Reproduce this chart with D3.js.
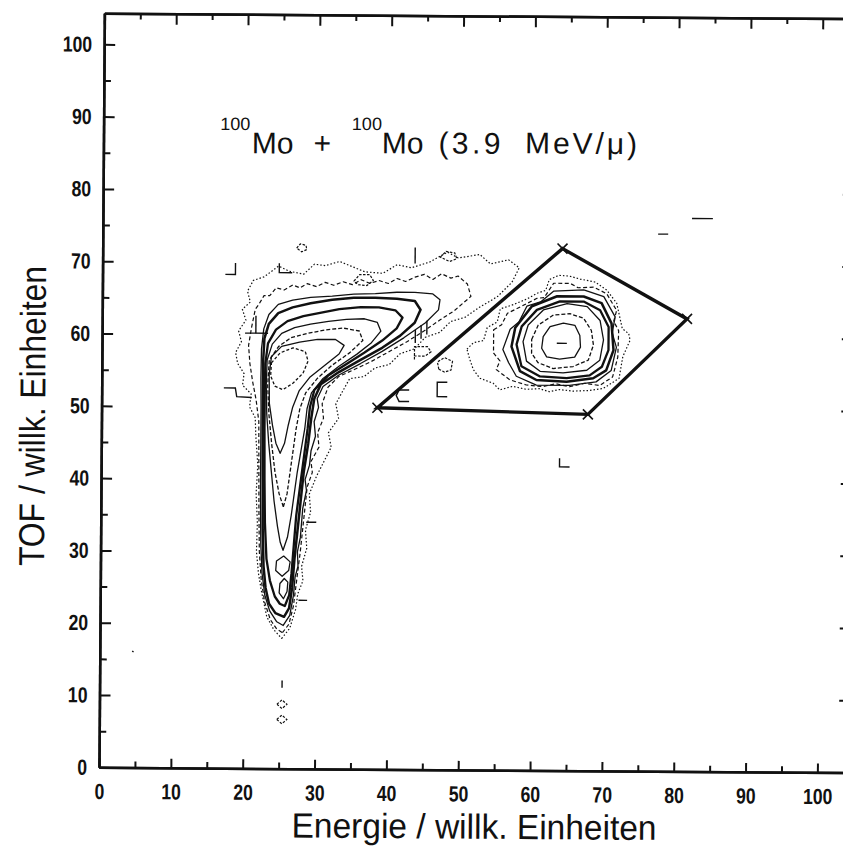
<!DOCTYPE html>
<html>
<head>
<meta charset="utf-8">
<script src="https://cdn.jsdelivr.net/npm/d3@7"></script>
<style>
  body { margin: 0; background: #fff; }
  svg { display: block; }
</style>
</head>
<body>
<svg id="chart" width="843" height="846"></svg>
<script>
// tick values of the frame
const majorTicks = [0, 10, 20, 30, 40, 50, 60, 70, 80, 90, 100];
const minorTicks = [5, 15, 25, 35, 45, 55, 65, 75, 85, 95];

// contour rings of the fission ridge (L shaped), level 1 = outermost
const ridgeContours = [
  { level: 1, pts: [[25.3,18.0],[26.4,19.4],[27.2,22.0],[27.5,24.2],[28.2,26.0],[28.0,28.0],[28.7,30.5],[28.5,33.0],[29.2,35.5],[29.0,38.0],[30.0,40.5],[31.0,42.5],[32.0,44.5],[31.6,46.5],[33.0,48.5],[32.6,50.5],[33.4,52.0],[34.5,54.0],[36.5,54.3],[38.0,55.5],[40.0,56.0],[41.5,57.5],[43.5,58.2],[45.0,59.8],[47.0,60.5],[48.5,62.0],[50.5,62.6],[52.5,64.0],[55.0,65.5],[57.0,67.5],[58.0,69.5],[56.5,70.6],[54.0,70.0],[52.5,71.3],[49.5,70.8],[48.0,71.6],[45.5,70.2],[43.0,69.4],[41.0,69.8],[39.0,68.6],[36.5,68.8],[34.5,69.6],[33.0,70.2],[31.0,69.6],[29.5,69.8],[28.0,68.4],[26.0,68.8],[24.5,69.5],[22.5,68.0],[21.0,67.5],[20.2,66.0],[20.6,64.5],[19.5,63.5],[20.0,62.0],[19.0,60.5],[19.4,59.0],[18.6,57.5],[18.9,56.0],[19.8,54.6],[19.6,53.0],[20.8,51.8],[20.6,50.0],[21.4,48.5],[21.5,46.0],[21.8,42.0],[21.6,38.0],[21.8,34.0],[21.7,30.0],[22.0,27.0],[22.4,24.7],[23.2,21.0],[24.2,19.2]] },
  { level: 2, pts: [[25.4,18.8],[26.3,20.0],[26.9,22.5],[27.2,25.0],[27.5,27.5],[27.8,30.0],[28.1,33.0],[28.4,36.0],[28.7,39.0],[29.4,41.0],[29.2,42.5],[30.3,44.5],[30.1,46.5],[30.9,48.5],[30.7,50.5],[31.5,52.8],[33.0,54.3],[35.0,55.2],[37.5,56.4],[40.0,57.8],[42.5,59.2],[45.0,60.8],[47.0,62.2],[49.0,63.5],[51.3,65.5],[50.8,67.2],[49.5,68.3],[48.5,68.0],[47.2,68.6],[46.0,67.8],[44.8,68.5],[43.5,68.1],[42.2,67.5],[41.0,67.9],[39.8,67.2],[38.5,67.6],[37.2,67.2],[36.0,67.7],[34.8,67.0],[33.5,67.4],[32.2,66.9],[31.0,67.3],[29.8,66.7],[28.5,67.1],[27.5,66.5],[26.5,66.9],[25.3,66.2],[24.2,66.5],[23.3,65.4],[22.5,65.4],[21.8,64.2],[21.3,63.5],[20.8,61.0],[20.4,58.5],[20.6,56.0],[21.0,53.5],[21.5,51.0],[21.9,48.0],[21.95,42.0],[22.0,36.0],[22.1,30.0],[22.4,26.0],[22.9,23.0],[23.7,20.6],[24.6,19.3]] },
  { level: 3, pts: [[25.5,19.8],[26.4,21.2],[26.9,24.0],[27.1,26.5],[27.5,28.0],[27.4,30.0],[27.8,32.0],[28.1,36.0],[28.6,38.5],[28.4,40.0],[29.0,42.0],[29.2,44.0],[29.8,46.0],[29.6,48.0],[30.2,50.0],[30.0,51.2],[30.8,52.9],[33.0,54.5],[36.0,56.1],[39.0,57.8],[42.0,59.7],[45.0,61.8],[46.8,63.6],[47.0,65.0],[46.0,65.8],[43.5,66.0],[41.0,66.0],[38.0,65.8],[35.0,65.7],[32.0,65.4],[29.0,65.2],[26.5,64.8],[24.5,64.2],[23.2,62.8],[22.5,60.8],[22.2,58.0],[22.15,54.0],[22.2,50.0],[22.2,45.0],[22.2,38.0],[22.3,31.0],[22.5,27.0],[22.9,24.0],[23.6,21.8],[24.6,20.3]] },
  { level: 4, pts: [[25.6,21.0],[26.3,22.2],[26.7,25.0],[27.0,29.0],[27.4,33.0],[27.8,37.0],[28.2,41.0],[28.8,45.0],[29.2,48.5],[29.6,51.2],[30.5,53.2],[33.0,54.9],[36.0,56.6],[39.0,58.3],[41.5,60.0],[43.5,61.8],[44.3,63.6],[43.5,64.8],[41.0,65.1],[38.0,65.2],[35.0,65.2],[32.0,64.9],[29.0,64.4],[26.5,63.8],[24.5,63.0],[23.2,61.5],[22.6,59.5],[22.45,56.5],[22.45,52.0],[22.45,47.0],[22.5,40.0],[22.55,33.0],[22.7,28.0],[23.0,25.0],[23.5,22.8],[24.4,21.5]] },
  { level: 5, pts: [[25.7,22.5],[26.3,24.0],[26.6,27.0],[26.9,31.0],[27.2,35.0],[27.7,39.0],[28.2,43.0],[28.7,47.0],[29.0,50.0],[29.6,52.4],[31.5,54.4],[34.0,56.0],[36.5,57.6],[39.0,59.3],[41.0,61.0],[41.8,62.5],[40.8,63.5],[38.5,63.9],[36.0,63.9],[33.0,63.6],[30.5,63.1],[28.0,62.6],[25.8,61.9],[24.2,60.7],[23.1,58.8],[22.75,56.0],[22.7,52.0],[22.7,47.0],[22.75,40.0],[22.85,34.0],[23.1,29.0],[23.6,26.0],[24.3,23.8],[25.0,22.8]] },
  { level: 6, pts: [[25.4,30.2],[26.0,32.0],[26.5,35.0],[26.9,38.0],[27.3,41.0],[27.8,44.0],[28.3,47.0],[28.6,49.8],[29.2,52.0],[30.8,54.0],[33.0,55.7],[35.5,57.4],[37.5,59.0],[38.8,60.6],[38.3,61.8],[36.5,62.3],[34.0,62.2],[31.5,61.9],[29.0,61.5],[26.8,61.0],[25.0,60.2],[23.7,58.7],[23.0,56.5],[22.9,53.0],[23.0,49.0],[23.3,45.0],[23.7,41.0],[24.1,37.0],[24.6,33.5],[25.0,31.3]] },
  { level: 6, pts: [[25.3,26.6],[26.2,27.4],[26.4,28.6],[25.5,29.4],[24.5,28.7],[24.4,27.4]] },
  { level: 6, pts: [[25.5,23.5],[26.0,24.5],[26.1,25.8],[25.6,26.3],[25.0,25.6],[24.9,24.3]] },
  { level: 7, pts: [[25.4,36.2],[25.9,38.0],[26.3,41.0],[26.7,44.0],[27.1,47.0],[27.6,49.8],[28.4,52.0],[30.0,54.0],[32.0,55.8],[34.5,57.6],[36.3,59.3],[35.8,60.6],[33.5,61.0],[31.0,60.7],[28.5,60.2],[26.3,59.6],[24.6,58.4],[23.3,56.5],[23.1,53.0],[23.3,49.0],[23.7,45.0],[24.2,41.0],[24.8,38.0]] },
  { level: 8, pts: [[24.9,43.6],[25.5,45.0],[26.0,47.5],[26.6,50.0],[27.5,52.3],[29.0,54.2],[31.0,55.8],[33.0,57.4],[33.7,58.6],[32.5,59.4],[30.0,59.4],[27.5,59.0],[25.0,58.4],[23.6,57.0],[23.3,54.5],[23.35,50.5],[23.8,47.5],[24.3,45.0]] },
  { level: 9, pts: [[23.6,56.1],[24.8,57.5],[26.6,58.2],[28.3,57.7],[28.7,56.4],[28.0,54.7],[26.6,53.3],[25.2,52.4],[24.1,52.9],[23.5,54.3]] }
];

// contour rings of the elastic peak inside the cut
const elasticContours = [
  { level: 1, pts: [[50.8,58.2],[51.7,59.1],[53.1,59.4],[53.6,61.2],[55.0,62.0],[55.4,63.8],[57.2,64.4],[59.1,65.2],[60.5,66.0],[61.7,66.4],[62.2,67.9],[63.5,68.5],[65.0,68.4],[66.5,68.0],[68.6,67.6],[70.2,66.5],[71.6,64.7],[72.4,61.2],[73.3,60.5],[73.5,59.6],[72.5,57.3],[72.0,54.3],[69.8,52.9],[67.9,52.6],[65.6,52.5],[63.7,52.7],[62.3,52.4],[60.9,52.8],[59.1,52.7],[57.2,53.1],[55.4,52.6],[54.5,53.5],[52.6,54.2],[51.7,55.4],[51.2,56.8]] },
  { level: 2, pts: [[54.5,60.9],[55.6,61.6],[56.4,63.2],[58.2,64.1],[60.5,65.3],[61.5,65.4],[62.8,67.4],[65.1,67.4],[66.2,66.8],[68.4,66.9],[70.2,66.0],[71.6,63.7],[71.2,62.2],[71.9,60.9],[71.8,57.2],[71.1,54.5],[69.3,53.3],[67.2,53.6],[65.1,53.1],[63.2,53.5],[61.4,53.1],[59.1,53.3],[56.8,54.0],[54.9,55.4],[55.4,56.6],[54.5,57.7]] },
  { level: 3, pts: [[55.8,58.2],[56.8,61.0],[58.0,62.0],[59.1,64.2],[61.0,64.8],[62.8,66.3],[67.0,66.5],[69.8,65.6],[71.4,62.8],[71.0,60.6],[71.6,58.6],[70.9,55.4],[68.8,53.8],[65.1,53.3],[60.5,53.3],[57.7,54.5],[56.6,56.4]] },
  { level: 4, pts: [[57.0,58.6],[57.5,61.2],[59.8,64.2],[63.3,65.6],[67.0,65.6],[69.5,64.7],[70.9,61.9],[71.2,58.2],[70.2,55.4],[68.4,54.3],[64.7,53.8],[60.5,54.0],[58.2,55.2]] },
  { level: 5, pts: [[57.7,58.9],[58.4,61.4],[60.5,63.7],[63.7,64.9],[67.0,64.9],[69.3,63.7],[70.5,61.4],[70.5,58.2],[69.6,55.9],[67.9,54.7],[64.7,54.3],[61.0,54.5],[58.4,55.9]] },
  { level: 6, pts: [[58.6,59.3],[59.3,61.6],[61.4,63.7],[64.7,64.6],[67.5,64.2],[69.3,62.3],[69.8,59.6],[69.3,56.8],[67.5,55.4],[64.2,55.0],[61.0,55.2],[59.1,56.6]] },
  { level: 7, pts: [[59.8,59.6],[60.7,61.6],[62.8,63.0],[65.1,63.2],[67.0,62.6],[68.1,60.9],[68.4,58.9],[67.7,56.8],[65.6,55.9],[62.8,55.6],[60.7,56.4],[59.8,57.7]] },
  { level: 8, pts: [[61.2,58.4],[61.4,60.0],[62.35,61.4],[64.2,61.9],[65.8,61.6],[66.5,60.2],[66.6,58.6],[65.8,57.2],[63.7,56.9],[61.9,57.2]] }
];

// isolated low-count islands (closed) and stray contour pieces (open)
const islandLoops = [
  [[27.0,72.0],[27.5,72.6],[28.3,72.4],[28.4,71.8],[27.7,71.5]],
  [[24.7,8.9],[25.4,9.5],[26.1,8.9],[25.4,8.3]],
  [[24.7,6.8],[25.4,7.4],[26.1,6.8],[25.4,6.2]],
  [[43.5,56.7],[43.5,58.5],[45.3,58.5],[45.8,57.8],[45.0,57.2],[43.5,57.2]],
  [[46.9,55.4],[46.7,56.4],[47.7,57.0],[48.8,56.5],[48.6,55.3],[47.7,55.0]],
  [[35.0,67.5],[35.8,68.4],[37.2,68.4],[37.7,67.6],[36.8,66.9],[35.6,67.0]],
  [[47.0,70.9],[47.8,71.7],[49.0,71.5],[49.3,70.7],[48.3,70.3]]
];
const strayPieces = [
  [[17.1,68.3],[18.5,68.3],[18.5,69.9]],
  [[19.9,60.2],[23.1,60.2]],
  [[21.4,60.2],[21.4,62.6]],
  [[17.0,52.6],[18.6,52.6],[18.8,51.4],[20.9,51.3]],
  [[24.6,69.9],[24.6,68.6],[26.4,68.6]],
  [[28.6,34.1],[30.0,34.1]],
  [[27.6,23.3],[28.8,23.3]],
  [[25.4,11.2],[25.4,12.2]],
  [[77.3,74.3],[78.7,74.3]],
  [[82.0,76.5],[84.9,76.5]],
  [[63.8,43.2],[63.8,42.0],[65.2,42.0]],
  [[4.5,16.1],[4.7,16.0]],
  [[48.1,53.6],[46.7,53.6],[46.7,51.6],[48.1,51.6]],
  [[43.5,70.0],[43.5,72.2]],
  [[42.8,52.5],[41.4,52.5],[41.0,51.7],[41.4,50.9],[42.8,50.9]],
  [[63.3,59.1],[64.7,59.1]],
  [[43.6,59.0],[43.6,60.8]],
  [[44.4,59.6],[44.4,61.5]],
  [[45.2,60.2],[45.2,62.1]]
];

// software cut around the elastic peak
const cutVertices = [[38.4,50.0],[67.7,49.3],[81.4,62.6],[64.0,72.2]];

const ink = '#111';
const levelStyle = {
  1: { w: 1.2, dash: '1.5,2' },
  2: { w: 1.2, dash: '4,2.5' },
  3: { w: 1.3, dash: null },
  4: { w: 2.5, dash: null },
  5: { w: 2.3, dash: null },
  6: { w: 1.3, dash: null },
  7: { w: 1.3, dash: '4,2' },
  8: { w: 1.3, dash: null },
  9: { w: 1.3, dash: '3,2' }
};

const svg = d3.select('#chart');

const x = d3.scaleLinear().domain([0, 104.5]).range([99, 99 + 104.5 * 7.184]);
const y = d3.scaleLinear().domain([0, 104.3]).range([767.3, 767.3 - 104.3 * 7.23]);

// the scanned sheet is slightly turned
const plot = svg.append('g')
  .attr('transform', 'rotate(0.41,' + x(0) + ',' + y(0) + ')');

const sans = "'Liberation Sans',Arial,Helvetica,sans-serif";

function styleAxis(g, labels) {
  g.select('.domain').attr('stroke', ink).attr('stroke-width', 2.5);
  g.selectAll('.tick line').attr('stroke', ink).attr('stroke-width', 2);
  if (labels) {
    // condensed plotter lettering
    g.selectAll('.tick text')
      .attr('fill', ink)
      .style('font-family', sans)
      .style('font-size', '22px')
      .style('font-weight', 'bold')
      .attr('textLength', function() { return this.textContent.length * 9.8; })
      .attr('lengthAdjust', 'spacingAndGlyphs');
  }
}

// left
plot.append('g').attr('transform', 'translate(' + x(0) + ',0)')
  .call(d3.axisLeft(y).tickValues(majorTicks).tickSize(-11).tickSizeOuter(0).tickPadding(12))
  .call(g => styleAxis(g, true));
plot.append('g').attr('transform', 'translate(' + x(0) + ',0)')
  .call(d3.axisLeft(y).tickValues(minorTicks).tickSize(-7).tickSizeOuter(0).tickFormat(''))
  .call(g => styleAxis(g, false));

// bottom
plot.append('g').attr('transform', 'translate(0,' + y(0) + ')')
  .call(d3.axisBottom(x).tickValues(majorTicks).tickSize(-9).tickSizeOuter(0).tickPadding(16))
  .call(g => styleAxis(g, true));
plot.append('g').attr('transform', 'translate(0,' + y(0) + ')')
  .call(d3.axisBottom(x).tickValues(minorTicks).tickSize(-6).tickSizeOuter(0).tickFormat(''))
  .call(g => styleAxis(g, false));

// top
plot.append('g').attr('transform', 'translate(0,' + y(104.3) + ')')
  .call(d3.axisTop(x).tickValues(majorTicks).tickSize(-11).tickSizeOuter(0).tickFormat(''))
  .call(g => styleAxis(g, false));
plot.append('g').attr('transform', 'translate(0,' + y(104.3) + ')')
  .call(d3.axisTop(x).tickValues(minorTicks).tickSize(-6).tickSizeOuter(0).tickFormat(''))
  .call(g => styleAxis(g, false));

// right
plot.append('g').attr('transform', 'translate(' + x(104.5) + ',0)')
  .call(d3.axisRight(y).tickValues(majorTicks).tickSize(-11).tickSizeOuter(0).tickFormat(''))
  .call(g => styleAxis(g, false));
plot.append('g').attr('transform', 'translate(' + x(104.5) + ',0)')
  .call(d3.axisRight(y).tickValues(minorTicks).tickSize(-6).tickSizeOuter(0).tickFormat(''))
  .call(g => styleAxis(g, false));

const ring = d3.line().x(d => x(d[0])).y(d => y(d[1])).curve(d3.curveLinearClosed);
const piece = d3.line().x(d => x(d[0])).y(d => y(d[1]));

function drawRings(rings) {
  plot.append('g').selectAll('path')
    .data(rings)
    .join('path')
      .attr('d', d => ring(d.pts))
      .attr('fill', 'none')
      .attr('stroke', ink)
      .attr('stroke-linejoin', 'round')
      .attr('stroke-width', d => levelStyle[d.level].w)
      .attr('stroke-dasharray', d => levelStyle[d.level].dash);
}
drawRings(ridgeContours);
drawRings(elasticContours);

plot.append('g').selectAll('path')
  .data(islandLoops)
  .join('path')
    .attr('d', ring)
    .attr('fill', 'none')
    .attr('stroke', ink)
    .attr('stroke-width', 1.2)
    .attr('stroke-dasharray', '2.5,1.5');

plot.append('g').selectAll('path')
  .data(strayPieces)
  .join('path')
    .attr('d', piece)
    .attr('fill', 'none')
    .attr('stroke', ink)
    .attr('stroke-width', 1.4);

// cut polygon with crosses on the corners
plot.append('path')
  .attr('d', ring(cutVertices))
  .attr('fill', 'none')
  .attr('stroke', ink)
  .attr('stroke-width', 3.4)
  .attr('stroke-linejoin', 'miter');

plot.append('g').selectAll('path')
  .data(cutVertices)
  .join('path')
    .attr('d', d => {
      const cx = x(d[0]), cy = y(d[1]), s = 5;
      return 'M' + (cx - s) + ',' + (cy - s) + 'L' + (cx + s) + ',' + (cy + s) +
             'M' + (cx - s) + ',' + (cy + s) + 'L' + (cx + s) + ',' + (cy - s);
    })
    .attr('stroke', ink)
    .attr('stroke-width', 1.6);

// reaction label
const title = plot.append('g')
  .attr('fill', ink)
  .style('font-family', sans);
title.append('text').attr('x', 215.6).attr('y', 129.1).style('font-size', '18px').text('100');
title.append('text').attr('x', 247.3).attr('y', 152.2).style('font-size', '30px').text('Mo');
title.append('text').attr('x', 309).attr('y', 151.8).style('font-size', '30px').text('+');
title.append('text').attr('x', 347.3).attr('y', 128.2).style('font-size', '18px').text('100');
title.append('text').attr('x', 377.3).attr('y', 151.3).style('font-size', '30px').text('Mo');
title.append('text').attr('x', 434).attr('y', 150.9).style('font-size', '30px')
  .attr('textLength', 62).attr('lengthAdjust', 'spacing').text('(3.9');
title.append('text').attr('x', 520.6).attr('y', 150.3).style('font-size', '30px')
  .attr('textLength', 112).attr('lengthAdjust', 'spacing').text('MeV/μ)');

// axis titles
plot.append('text')
  .attr('x', 474.5).attr('y', 836)
  .attr('text-anchor', 'middle')
  .attr('fill', ink)
  .attr('textLength', 365).attr('lengthAdjust', 'spacingAndGlyphs')
  .style('font-family', sans)
  .style('font-size', '35px')
  .text('Energie / willk. Einheiten');

plot.append('text')
  .attr('transform', 'translate(42.5,416.4) rotate(-90)')
  .attr('text-anchor', 'middle')
  .attr('fill', ink)
  .attr('textLength', 300).attr('lengthAdjust', 'spacingAndGlyphs')
  .style('font-family', sans)
  .style('font-size', '36px')
  .text('TOF / willk. Einheiten');
</script>
</body>
</html>
